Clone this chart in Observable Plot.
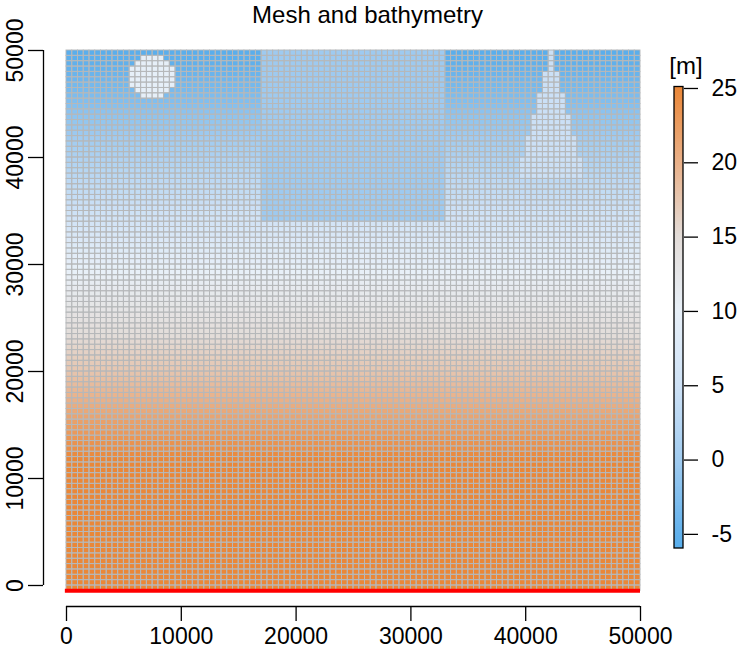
<!DOCTYPE html>
<html>
<head>
<meta charset="utf-8">
<script src="https://cdn.jsdelivr.net/npm/d3@7"></script>
<script src="https://cdn.jsdelivr.net/npm/@observablehq/plot@0.6"></script>
<style>
html,body{margin:0;padding:0;background:#fff}
#wrap{position:relative;width:750px;height:650px}
#wrap svg{position:absolute;top:0;overflow:visible;font-family:"Liberation Sans",Arial,sans-serif}
</style>
</head>
<body>
<div id="wrap"></div>
<script>
const title = "Mesh and bathymetry";
const unit = "[m]";
const cellSize = 500;
const columnCount = 100;
const rowBottom = -500;
const axisTicks = [0,10000,20000,30000,40000,50000];
const legendTicks = [-5,0,5,10,15,20,25];

// depth per row, south to north
const rowDepth = [
 25,25,25,25,25,25,25,25,25,25,25,25,25,25,25,25,25,25,25,25,25,25,25,25,25,
 24.5,24,23.6,23.2,22.8, 22.3,21.9,21.4,21,20.5, 20,19.6,19.2,18.7,18.3,
 17.8,17.4,17,16.6,16.2, 15.8,15.4,15,14.6,14.2, 13.8,13.4,13,12.6,12.2,
 11.8,11.4,11,10.5,10, 9.6,9.1,8.7,8.2,7.8, 7.3,6.8,6.3,5.8,5.3,
 4.9,4.6,4.2,3.9,3.6, 3.3,3,2.6,2.2,1.8, 1.4,1,0.6,0.2,-0.1,
 -0.5,-0.9,-1.2,-1.5,-1.8, -2.2,-2.6,-3,-3.3,-3.6, -4,-4.4,-4.8,-5.2,-5.5, -5.8
];

// shoal rectangle
const shoalX = [17000,33000];
const shoalY = [34000,50000];
const shoalDepth = -0.3;

// round island: row bottom, first x, last x
const islandRows = [49000,48500,48000,47500,47000,46500,46000,45500];
const islandX1  = [6500,6000,5500,5500,5500,5500,6000,6500];
const islandX2  = [8500,9000,9500,9500,9500,9500,9000,8500];
const islandDepth = 9.5;

// stepped spike: from-y, to-y, x range
const spikeY1 = [48000,46000,44000,42000,40000,38000];
const spikeY2 = [50000,48000,46000,44000,42000,40000];
const spikeX1 = [42000,41500,41000,40500,40000,39500];
const spikeX2 = [42500,43000,43500,44000,44500,45000];
const spikeDepth = 4.6;

// colour ramp
const rampValues = [-5.95,-5,0,5,10,15,20,25.1];
const rampColors = ["#58aeec","#62b1ec","#a2ccf0","#cfe2f6","#e8f0f8","#e3dcd8","#e9b088","#ea8636"];
const colorScale = {type:"linear", domain:rampValues, range:rampColors, interpolate:"rgb"};

const cells = [];
rowDepth.forEach((d,i)=>{
  const y1 = rowBottom + i*cellSize, y2 = y1 + cellSize;
  for(let j=0;j<columnCount;j++){
    const x1 = j*cellSize, x2 = x1 + cellSize;
    let value = d;
    if(x1>=shoalX[0] && x2<=shoalX[1] && y1>=shoalY[0] && y2<=shoalY[1]) value = shoalDepth;
    const k = islandRows.indexOf(y1);
    if(k>=0 && x1>=islandX1[k] && x2<=islandX2[k]) value = islandDepth;
    spikeY1.forEach((s,m)=>{
      if(y1>=s && y2<=spikeY2[m] && x1>=spikeX1[m] && x2<=spikeX2[m]) value = spikeDepth;
    });
    cells.push({x1,x2,y1,y2,value});
  }
});

const main = Plot.plot({
  width:750, height:650,
  marginLeft:66, marginRight:110, marginTop:50, marginBottom:65,
  x:{domain:[0,50000], axis:null},
  y:{domain:[0,50000], axis:null},
  color:colorScale,
  style:{fontFamily:'"Liberation Sans",Arial,sans-serif', background:"transparent", overflow:"visible"},
  marks:[
    Plot.rect(cells,{x1:"x1",x2:"x2",y1:"y1",y2:"y2",fill:"value",shapeRendering:"crispEdges"}),
    Plot.rect(cells,{x1:"x1",x2:"x2",y1:"y1",y2:"y2",fill:"none",stroke:"#b6b8ba",strokeWidth:0.95}),
    Plot.ruleY([rowBottom],{x1:-100,x2:50000,stroke:"#ff0000",strokeWidth:4,strokeLinecap:"butt"}),
    Plot.axisX(axisTicks,{anchor:"bottom",label:null,tickSize:15,tickPadding:6,dy:21,fontSize:23,tickFormat:d=>String(d),stroke:"#000",fill:"#000",strokeWidth:1.3,strokeOpacity:1}),
    Plot.ruleY([0],{x1:0,x2:50000,dy:21,stroke:"#000",strokeWidth:1.3}),
    Plot.axisY(axisTicks,{anchor:"left",label:null,tickSize:15,tickPadding:6,dx:-23,fontSize:23,tickRotate:-90,tickFormat:d=>String(d),stroke:"#000",fill:"#000",strokeWidth:1.3,strokeOpacity:1}),
    Plot.ruleX([0],{y1:0,y2:50000,dx:-23,stroke:"#000",strokeWidth:1.3}),
    Plot.text([title],{frameAnchor:"top",dx:14,dy:-35,fontSize:24,fill:"#000",lineAnchor:"middle"})
  ]
});
main.style.left = "0px";

const barValues = d3.range(-5.95,25.1,0.1);
const legend = Plot.plot({
  width:100, height:650,
  marginLeft:24, marginRight:67, marginTop:86.5, marginBottom:102,
  x:{domain:[0,1], axis:null},
  y:{domain:[-5.95,25.1], axis:null},
  color:colorScale,
  style:{fontFamily:'"Liberation Sans",Arial,sans-serif', background:"transparent", overflow:"visible"},
  marks:[
    Plot.rect(barValues,{x1:0,x2:1,y1:d=>d,y2:d=>d+0.11,fill:d=>d,shapeRendering:"crispEdges"}),
    Plot.rect([0],{x1:0,x2:1,y1:-5.95,y2:25.1,stroke:"#000",strokeWidth:1.3,fill:"none"}),
    Plot.axisY(legendTicks,{anchor:"right",label:null,tickSize:14,tickPadding:14,fontSize:23,tickFormat:d=>String(d),stroke:"#000",fill:"#000",strokeWidth:1.3,strokeOpacity:1}),
    Plot.text([unit],{frameAnchor:"top",dx:7,dy:-21,fontSize:24,fill:"#000",lineAnchor:"middle"})
  ]
});
legend.style.left = "650px";

const wrap = document.getElementById("wrap");
wrap.appendChild(main);
wrap.appendChild(legend);
</script>
</body>
</html>
